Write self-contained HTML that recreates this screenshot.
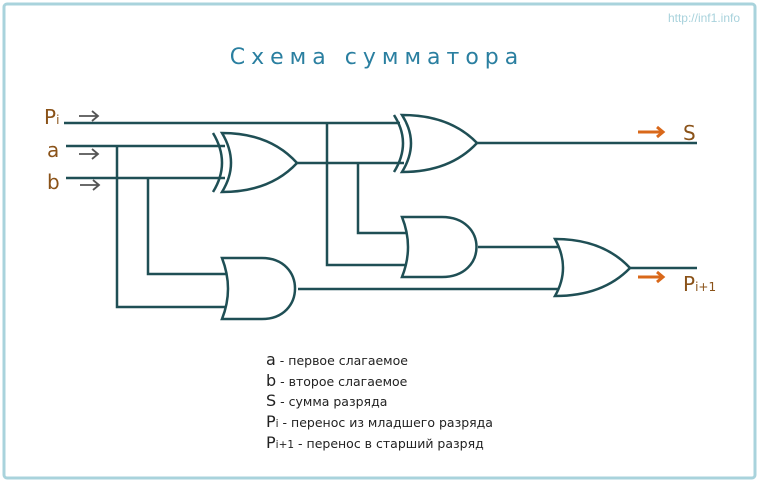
<!DOCTYPE html>
<html><head><meta charset="utf-8"><style>
body{margin:0;width:759px;height:482px;background:#fff;overflow:hidden}
svg{display:block}
</style></head><body>
<svg width="759" height="482" viewBox="0 0 759 482" xmlns="http://www.w3.org/2000/svg">
<rect x="4" y="4" width="751" height="474" rx="3" fill="#fff" stroke="#a9d3dc" stroke-width="3"/>
<text x="740" y="22" text-anchor="end" font-family="Liberation Sans, sans-serif" font-size="12" fill="#a8d2dc">http://inf1.info</text>
<text x="377" y="64" text-anchor="middle" font-family="DejaVu Sans, sans-serif" font-size="22" letter-spacing="6" fill="#2a7fa0">Схема сумматора</text>
<g fill="none" stroke="#1f4f55" stroke-width="2.5">
<path d="M64,123 H400"/>
<path d="M66,146 H225"/>
<path d="M66,178 H225"/>
<path d="M117,146 V307 H228"/>
<path d="M148,178 V274 H228"/>
<path d="M297,163 H404"/>
<path d="M327,123 V265 H407"/>
<path d="M358,163 V233 H407"/>
<path d="M477,143 H697"/>
<path d="M478,247 H560"/>
<path d="M298,289 H560"/>
<path d="M630,268 H697"/>
<path d="M222,133 Q240,163 222,192 Q270,192 297,163 Q270,133 222,133Z" fill="#fff"/>
<path d="M213,133 Q231,163 213,192"/>
<path d="M222,258 H262 C306,258 306,319 262,319 H222 Q234,289 222,258Z" fill="#fff"/>
<path d="M402,115 Q420,143 402,172 Q450,172 477,143 Q450,115 402,115Z" fill="#fff"/>
<path d="M394,115 Q412,143 394,172"/>
<path d="M402,217 H442 C488,217 488,277 442,277 H402 Q414,247 402,217Z" fill="#fff"/>
<path d="M555,239 Q571,268 555,296 Q603,296 630,268 Q603,239 555,239Z" fill="#fff"/>
</g>
<g fill="none" stroke="#555" stroke-width="1.8">
<path d="M79,116 H98 M92,111 L98,116 L92,121"/>
<path d="M79,154 H98 M92,149 L98,154 L92,159"/>
<path d="M80,185 H99 M93,180 L99,185 L93,190"/>
</g>
<g fill="none" stroke="#d9681a" stroke-width="3">
<path d="M638,132 H662 M657,127 L663,132 L657,137"/>
<path d="M638,277 H662 M657,272 L663,277 L657,282"/>
</g>
<g font-family="DejaVu Sans, sans-serif" fill="#8a5218">
<text x="44" y="124" font-size="20">P<tspan font-size="12">i</tspan></text>
<text x="47" y="157" font-size="20">a</text>
<text x="47" y="189" font-size="20">b</text>
<text x="683" y="140" font-size="20">S</text>
<text x="683" y="291" font-size="20">P<tspan font-size="12">i+1</tspan></text>
</g>
<g font-family="DejaVu Sans, sans-serif" font-size="12.5" fill="#222">
<text x="266" y="365"><tspan font-size="16">a</tspan> - первое слагаемое</text>
<text x="266" y="386"><tspan font-size="16">b</tspan> - второе слагаемое</text>
<text x="266" y="406"><tspan font-size="16">S</tspan> - сумма разряда</text>
<text x="266" y="427"><tspan font-size="16">P</tspan><tspan font-size="10.5">i</tspan> - перенос из младшего разряда</text>
<text x="266" y="448"><tspan font-size="16">P</tspan><tspan font-size="10.5">i+1</tspan> - перенос в старший разряд</text>
</g>
</svg>
</body></html>
